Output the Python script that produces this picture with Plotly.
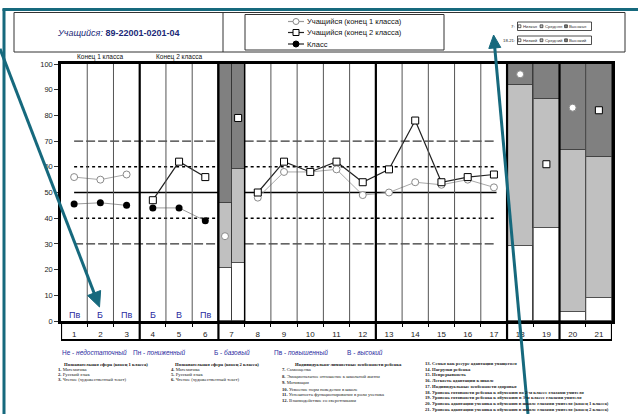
import plotly.graph_objects as go

W, H = 638, 414

# ---------------- data ----------------
categories = list(range(1, 22))
cat_labels = [str(c) for c in categories]
level_letters = ["Пв", "Б", "Пв", "Б", "В", "Пв"]          # categories 1-6

student_g1 = [56, 55, 57, None, None, None, 33, 48, 58, 58, 59, 49, 50, 54, 53, 55, 52, 96, None, 83, None]
student_g2 = [None, None, None, 47, 62, 56, 79, 50, 62, 58, 62, 54, 59, 78, 54, 56, 57, None, 61, None, 82]
class_vals = [45.5, 46, 45, 44, 44, 39] + [None] * 15

bar_x = [6.75, 7.25, 18, 19, 20, 21]
bar_w = [0.5, 0.5, 1, 1, 1, 1]
bar_low_top = [20.5, 22.4, 29, 36, 3.5, 9]
bar_mid_top = [46, 59, 92, 86.5, 66.5, 64]

ref_levels = [30, 40, 50, 60, 70]
ref_dash = ["9px,3px", "dot", "solid", "dot", "9px,3px"]
ref_width = [1, 1.6, 1.6, 1.6, 1]
ref_spans = [(1, 6.5), (7.5, 17.1)]

blocks = [[1, 2, 3], [4, 5, 6], [7], list(range(8, 18)), [18], [19], [20], [21]]
thick_bounds = [3.5, 6.5, 12.5, 17.5, 19.5]
mid_bounds = [7.5]
row_dividers = [0.5, 3.5, 6.5, 12.5, 17.5, 19.5, 21.5]

legend_names = ["Учащийся (конец 1 класса)", "Учащийся (конец 2 класса)", "Класс"]
legend_levels_7 = ["Низкая", "Средняя", "Высокая"]
legend_levels_18 = ["Низкий", "Средний", "Высокий"]
levels_text = [("Не", "недостаточный"), ("Пн", "пониженный"), ("Б", "базовый"),
               ("Пв", "повышенный"), ("В", "высокий")]

col1_head = "Познавательная сфера (конец 1 класса)"
col1 = ["1. Математика", "2. Русский язык", "3. Чтение (художественный текст)"]
col2_head = "Познавательная сфера (конец 2 класса)"
col2 = ["4. Математика", "5. Русский язык", "6. Чтение (художественный текст)"]
col3_head = "Индивидуально-личностные особенности ребенка"
col3 = ["7. Самооценка", "8. Эмоциональное отношение к школьной жизни", "9. Мотивация",
        "10. Усвоение норм поведения в школе", "11. Успешность функционирования в роли ученика",
        "12. Взаимодействие со сверстниками"]
col4 = ["13. Семья как ресурс адаптации учащегося", "14. Нагрузки ребенка", "15. Непрерывность",
        "16. Легкость адаптации к школе", "17. Индивидуальные особенности здоровья",
        "18. Уровень готовности ребенка к обучению во 2-м классе глазами учителя",
        "19. Уровень готовности ребенка к обучению в 3-м классе глазами учителя",
        "20. Уровень адаптации ученика к обучению в школе глазами учителя (конец 1 класса)",
        "21. Уровень адаптации ученика к обучению в школе глазами учителя (конец 2 класса)"]

title_label = "Учащийся:"
title_id = "89-22001-0201-04"

# ---------------- helpers ----------------
def fx(x):
    return x / W

def fy(y):
    return 1 - y / H

def series_xy(vals, x7):
    xs, ys = [], []
    for blk in blocks:
        added = False
        for c in blk:
            v = vals[c - 1]
            if v is None:
                continue
            xs.append(x7 if c == 7 else c)
            ys.append(v)
            added = True
        if added:
            xs.append(None)
            ys.append(None)
    return xs, ys

FONT = "Liberation Sans, Arial, sans-serif"
SERIF = "Liberation Serif, Times New Roman, serif"
TEAL = "#16697d"
BLUE = "#2a2aa0"

fig = go.Figure()

# stacked bars
low_h = bar_low_top
mid_h = [m - l for m, l in zip(bar_mid_top, bar_low_top)]
high_h = [100 - m for m in bar_mid_top]
for hts, col in [(low_h, "#ffffff"), (mid_h, "#c0c0c0"), (high_h, "#808080")]:
    fig.add_trace(go.Bar(x=bar_x, y=hts, width=bar_w, marker=dict(color=col, line=dict(color="#333", width=0.8)),
                         showlegend=False, hoverinfo="skip"))

# reference lines
for lev, dsh, wd in zip(ref_levels, ref_dash, ref_width):
    xs, ys = [], []
    for a, b in ref_spans:
        xs += [a, b, None]
        ys += [lev, lev, None]
    fig.add_trace(go.Scatter(x=xs, y=ys, mode="lines", line=dict(color="black", dash=dsh, width=wd),
                             showlegend=False, hoverinfo="skip"))

# class series
cx, cy = series_xy(class_vals, 7)
fig.add_trace(go.Scatter(x=cx, y=cy, mode="lines+markers", name=legend_names[2],
                         line=dict(color="#9a9a9a", width=1),
                         marker=dict(symbol="circle", size=7, color="black")))
# student grade 1
sx1, sy1 = series_xy(student_g1, 6.75)
fig.add_trace(go.Scatter(x=sx1, y=sy1, mode="lines+markers", name=legend_names[0],
                         line=dict(color="#a8a8a8", width=1),
                         marker=dict(symbol="circle", size=7, color="white", line=dict(color="#8a8a8a", width=1))))
# student grade 2
sx2, sy2 = series_xy(student_g2, 7.25)
fig.add_trace(go.Scatter(x=sx2, y=sy2, mode="lines+markers", name=legend_names[1],
                         line=dict(color="#222", width=1.2),
                         marker=dict(symbol="square", size=7, color="white", line=dict(color="black", width=1))))

shapes = []
ann = []

def text(x, y, t, size, color="#222", family=FONT, xanchor="center", xref="paper", yref="paper"):
    ann.append(dict(x=x, y=y, xref=xref, yref=yref, text=t, showarrow=False,
                    xanchor=xanchor, yanchor="middle", borderpad=0,
                    font=dict(size=size, color=color, family=family)))

# vertical grid inside plot
for b in [c + 0.5 for c in categories[:-1]]:
    if b in thick_bounds:
        wd, colr = 2.2, "black"
    elif b in mid_bounds:
        wd, colr = 1.5, "black"
    else:
        wd, colr = 1, "#555"
    shapes.append(dict(type="line", xref="x", yref="y", x0=b, x1=b, y0=0, y1=100,
                       line=dict(color=colr, width=wd), layer="above"))

# number row box
y_row_bottom = fy(340)
y_axis_bottom = fy(321)
for b in row_dividers:
    shapes.append(dict(type="line", xref="x", yref="paper", x0=b, x1=b, y0=y_row_bottom, y1=y_axis_bottom,
                       line=dict(color="black", width=2.2)))
shapes.append(dict(type="line", xref="x", yref="paper", x0=0.5, x1=21.5, y0=y_row_bottom, y1=y_row_bottom,
                   line=dict(color="black", width=2)))

# level letters
for c, t in zip(categories, level_letters):
    text(c, 2.4, t, 9, BLUE, xref="x", yref="y")
# top group labels
text(2, fy(57.5), "Конец 1 класса", 6.5, "#111", xref="x")
text(5, fy(57.5), "Конец 2 класса", 6.5, "#111", xref="x")

# header box
shapes.append(dict(type="rect", xref="paper", yref="paper", x0=fx(14), x1=fx(625), y0=fy(52), y1=fy(12.5),
                   line=dict(color="#333", width=1)))
shapes.append(dict(type="line", xref="paper", yref="paper", x0=fx(223), x1=fx(223), y0=fy(52), y1=fy(12.5),
                   line=dict(color="#333", width=1)))
shapes.append(dict(type="rect", xref="paper", yref="paper", x0=fx(245), x1=fx(444), y0=fy(50), y1=fy(14.5),
                   line=dict(color="#333", width=1)))
text(fx(118), fy(33), "<i>" + title_label + "</i> <b>" + title_id + "</b>", 9, "#1c2a78")

# header legend
leg_y = [21.5, 32.5, 44]
for i, yy in enumerate(leg_y):
    shapes.append(dict(type="line", xref="paper", yref="paper", x0=fx(288), x1=fx(304), y0=fy(yy), y1=fy(yy),
                       line=dict(color=["#999", "#222", "#222"][i], width=1.2)))
    text(fx(306), fy(yy), legend_names[i], 7.5, "#111", xanchor="left")
r = 3
shapes.append(dict(type="circle", xref="paper", yref="paper", x0=fx(296 - r), x1=fx(296 + r),
                   y0=fy(leg_y[0] + r), y1=fy(leg_y[0] - r), fillcolor="white", line=dict(color="#888", width=1)))
shapes.append(dict(type="rect", xref="paper", yref="paper", x0=fx(296 - r), x1=fx(296 + r),
                   y0=fy(leg_y[1] + r), y1=fy(leg_y[1] - r), fillcolor="white", line=dict(color="black", width=1)))
shapes.append(dict(type="circle", xref="paper", yref="paper", x0=fx(296 - r), x1=fx(296 + r),
                   y0=fy(leg_y[2] + r), y1=fy(leg_y[2] - r), fillcolor="black", line=dict(color="black", width=1)))

# small right legends
for (y0b, y1b, lab, names) in [(22, 30.5, "7:", legend_levels_7), (36, 44.5, "18-21:", legend_levels_18)]:
    shapes.append(dict(type="rect", xref="paper", yref="paper", x0=fx(517.5), x1=fx(591.5), y0=fy(y1b), y1=fy(y0b),
                       line=dict(color="#222", width=0.8)))
    ym = (y0b + y1b) / 2
    text(fx(516), fy(ym), lab, 4.3, "#222", xanchor="right")
    for sx, nm, colr in zip([519.5, 541.5, 566], names, ["white", "#c0c0c0", "#808080"]):
        shapes.append(dict(type="rect", xref="paper", yref="paper", x0=fx(sx - 1.4), x1=fx(sx + 1.4),
                           y0=fy(ym + 1.4), y1=fy(ym - 1.4), fillcolor=colr, line=dict(color="#222", width=0.7)))
        text(fx(sx + 2.2), fy(ym), nm, 4.3, "#333", xanchor="left")

# level legend below
for (ab, word), xs in zip(levels_text, [61, 132, 213, 273, 346]):
    text(fx(xs), fy(352), ab + " - <i>" + word + "</i>", 6.5, BLUE, xanchor="left")

# bottom description columns
def col_text(x, ys, lines, bold=False):
    for yy, t in zip(ys, lines):
        num, rest = t.split(" ", 1)
        txt = "<b>" + t + "</b>" if bold else "<b>" + num + "</b> " + rest
        text(fx(x), fy(yy), txt, 4.7, "#222", SERIF, xanchor="left")

for cxp, head in [(106, col1_head), (217, col2_head), (348, col3_head)]:
    text(fx(cxp), fy(364.3), "<b>" + head + "</b>", 4.7, "#111", SERIF)
col_text(57, [369.3, 374.7, 379.9], col1)
col_text(170, [369.3, 374.7, 379.9], col2)
col_text(281, [369.3, 376.3, 382.3, 389, 394.8, 400.6], col3)
col_text(424, [363.3 + 5.75 * i for i in range(9)], col4, bold=True)

# teal frame and arrows
shapes.append(dict(type="line", xref="paper", yref="paper", x0=fx(4), x1=fx(4), y0=fy(414), y1=fy(9),
                   line=dict(color=TEAL, width=3)))
shapes.append(dict(type="line", xref="paper", yref="paper", x0=fx(2.5), x1=fx(638), y0=fy(9.5), y1=fy(9.5),
                   line=dict(color=TEAL, width=3)))

def arrow(tail, tip, hl, hw):
    (x0, y0), (x1, y1) = tail, tip
    dx, dy = x1 - x0, y1 - y0
    L = (dx * dx + dy * dy) ** 0.5
    ux, uy = dx / L, dy / L
    bx, by = x1 - hl * ux, y1 - hl * uy
    px, py = -uy, ux
    shapes.append(dict(type="line", xref="paper", yref="paper", x0=fx(x0), y0=fy(y0), x1=fx(bx + 2 * ux),
                       y1=fy(by + 2 * uy), line=dict(color=TEAL, width=3)))
    p1 = (bx + hw * px, by + hw * py)
    p2 = (bx - hw * px, by - hw * py)
    path = "M {} {} L {} {} L {} {} Z".format(fx(x1), fy(y1), fx(p1[0]), fy(p1[1]), fx(p2[0]), fy(p2[1]))
    shapes.append(dict(type="path", xref="paper", yref="paper", path=path, fillcolor=TEAL,
                       line=dict(color=TEAL, width=1)))

arrow((0, 48.8), (99.5, 307), 15, 7)
arrow((528, 414), (493.6, 35), 13, 6)

fig.update_layout(
    width=W, height=H, margin=dict(l=0, r=0, t=0, b=0, pad=0),
    paper_bgcolor="white", plot_bgcolor="white",
    barmode="stack", bargap=0, showlegend=False,
    shapes=shapes, annotations=ann,
    font=dict(family=FONT, size=8, color="#222"),
    xaxis=dict(domain=[fx(61), fx(612)], range=[0.5, 21.5], tickvals=categories, ticktext=cat_labels,
               ticks="", showgrid=False, zeroline=False, showline=True, mirror=True, linewidth=2.5,
               linecolor="black", tickfont=dict(size=8, color="#222"), ticklabelstandoff=4,
               automargin=False,
               minor=dict(tickvals=[c + 0.5 for c in categories[:-1]], ticks="outside", ticklen=3,
                          tickcolor="black", tickwidth=1)),
    yaxis=dict(domain=[fy(321), fy(64)], range=[0, 100], dtick=10, ticks="outside", ticklen=4,
               tickcolor="#333", showgrid=False, zeroline=False, showline=True, mirror=True,
               automargin=False,
               linewidth=2.5, linecolor="black", tickfont=dict(size=7.5, color="#222")),
)

fig.write_html("out.html", config={"displayModeBar": False},
               post_script="document.body.style.margin='0px';document.body.style.overflow='hidden';"
                           "document.documentElement.style.overflow='hidden';")
